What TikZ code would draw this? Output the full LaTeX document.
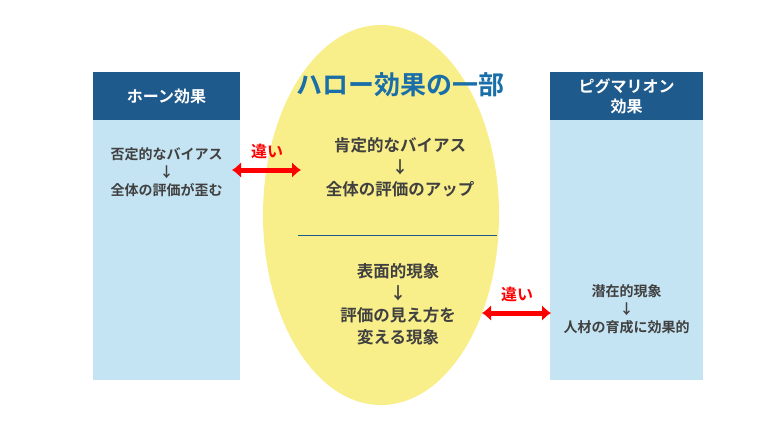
\documentclass[tikz,border=0pt]{standalone}
\usepackage{fontspec}
\usetikzlibrary{arrows.meta}
\newfontfamily\cjk{Noto Sans CJK JP Bold}
\definecolor{hdblue}{HTML}{1F5A8C}
\definecolor{bodyblue}{HTML}{C5E4F3}
\definecolor{pale}{HTML}{F8EE8A}
\definecolor{titleblue}{HTML}{1A6FA8}
\definecolor{txtgray}{HTML}{404040}
\begin{document}
\begin{tikzpicture}[x=1pt,y=-1pt]
	\tikzstyle{every node}+=[font=\cjk, text=txtgray, align=center]
	\tikzstyle{hd}=[fill=hdblue]
	\tikzstyle{body}=[fill=bodyblue]
	\tikzstyle{diff}=[red, line width=5pt, {Latex[length=9pt,width=16pt]}-{Latex[length=9pt,width=16pt]}]
	\useasboundingbox (0,0) rectangle (768,432);
	% columns
	\fill [body] (93,120) rectangle (240,380);
	\fill [hd] (93,72) rectangle (240,120);
	\fill [body] (550,120) rectangle (703,380);
	\fill [hd] (550,72) rectangle (703,120);
	\node [text=white, font=\cjk\fontsize{16}{20}\selectfont] (horn) at (166.5,96) {ホーン効果};
	\node [text=white, font=\cjk\fontsize{16}{20}\selectfont] (pyg) at (626.5,96) {ピグマリオン\\効果};
	% halo
	\fill [pale] (381,215) ellipse (118 and 190);
	\node [text=titleblue, font=\cjk\fontsize{26}{30}\selectfont] (halo) at (400,85) {ハロー効果の一部};
	\draw [hdblue, line width=0.6pt] (298,235) -- (497,235);
	% texts
	\node [font=\cjk\fontsize{14}{18}\selectfont] (neg) at (166.5,172) {否定的なバイアス\\↓\\全体の評価が歪む};
	\node [font=\cjk\fontsize{16.5}{22}\selectfont] (pos) at (400,167) {肯定的なバイアス\\↓\\全体の評価のアップ};
	\node [font=\cjk\fontsize{16.5}{22}\selectfont] (surf) at (398,304) {表面的現象\\↓\\評価の見え方を\\変える現象};
	\node [font=\cjk\fontsize{14}{18}\selectfont] (latent) at (626.5,309) {潜在的現象\\↓\\人材の育成に効果的};
	% differences
	\coordinate (a1) at (232,170);
	\coordinate (a2) at (301,170);
	\coordinate (b1) at (482,313);
	\coordinate (b2) at (551,313);
	\draw [diff] (a1) -- (a2);
	\draw [diff] (b1) -- (b2);
	\node [text=red, font=\cjk\fontsize{16}{20}\selectfont] (d1) at (267,151) {違い};
	\node [text=red, font=\cjk\fontsize{16}{20}\selectfont] (d2) at (517,294) {違い};
\end{tikzpicture}
\end{document}
